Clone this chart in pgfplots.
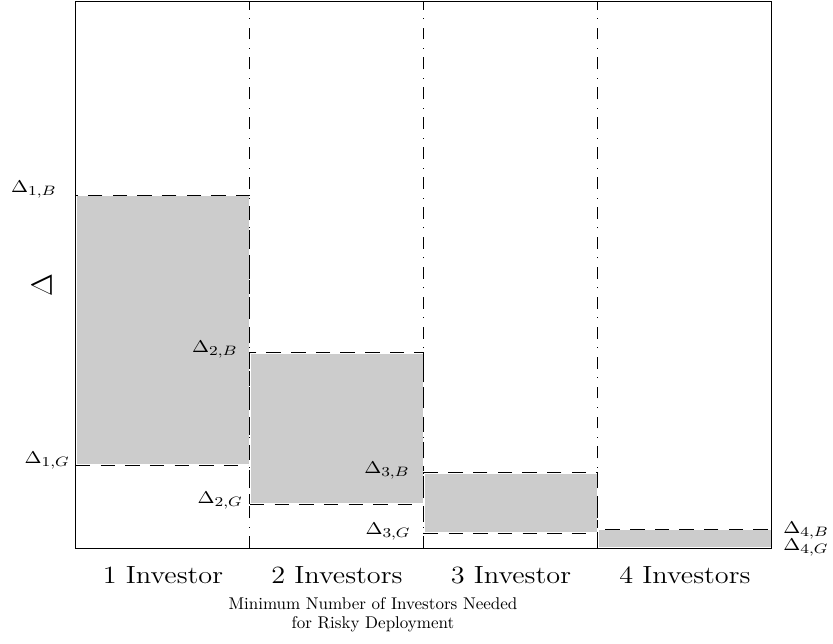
\documentclass[border=0pt]{standalone}
\usepackage{pgfplots}
\pgfplotsset{compat=1.18}
\usetikzlibrary{calc}
\DeclareMathSizes{10}{10}{8.5}{7}
\definecolor{bandgray}{RGB}{204,204,204}
\tikzset{
  bandedge/.style={black, line width=0.6pt, dash pattern=on 8.5pt off 6pt,
    preaction={draw=white, line width=1.6pt, solid}},
  colsep/.style={black, line width=0.6pt, dash pattern=on 7pt off 5pt on 0.6pt off 5pt},
  dlabel/.style={font=\fontsize{10}{12}\selectfont, inner sep=0pt, xscale=1.2, transform shape},
}
\begin{document}
\begin{tikzpicture}
\begin{axis}[
  name=ax,
  scale only axis,
  width=409.4pt, height=321.8pt,
  xmin=0, xmax=4, ymin=0, ymax=547,
  axis line style={line width=0.6pt},
  xtick={0.5,1.5,2.5,3.5},
  xticklabels={1 Investor, 2 Investors, 3 Investor, 4 Investors},
  ytick=\empty,
  major tick length=0pt,
  xticklabel style={font=\fontsize{14.6}{17}\selectfont, anchor=base, inner sep=0pt,
    yshift=-20.6pt, xscale=1.14, transform shape},
  xlabel={Minimum Number of Investors Needed\\for Risky Deployment},
  xlabel style={align=center, font=\fontsize{10}{11.2}\selectfont,
    at={(rel axis cs:0.4267,-0.0896)}, anchor=north, inner sep=0pt},
  ylabel={$\Delta$},
  ylabel style={font=\LARGE, at={(rel axis cs:-0.0489,0.481)}, anchor=center, inner sep=0pt},
  clip=false,
  axis on top,
]
% shaded intervals [Delta_{k,G}, Delta_{k,B}] for k = 1..4 investors
\addplot[draw=none, fill=bandgray] coordinates {(0,83) (1,83) (1,353) (0,353)} -- cycle;
\addplot[draw=none, fill=bandgray] coordinates {(1,44) (2,44) (2,195.3) (1,195.3)} -- cycle;
\addplot[draw=none, fill=bandgray] coordinates {(2,14.7) (3,14.7) (3,75.3) (2,75.3)} -- cycle;
\addplot[draw=none, fill=bandgray] coordinates {(3,0) (4,0) (4,19) (3,19)} -- cycle;
% dashed outlines of the intervals
\addplot[bandedge] coordinates {(0,83) (1,83) (1,353) (0,353)} -- cycle;
\addplot[bandedge] coordinates {(1,44) (2,44) (2,195.3) (1,195.3)} -- cycle;
\addplot[bandedge] coordinates {(2,14.7) (3,14.7) (3,75.3) (2,75.3)} -- cycle;
\addplot[bandedge] coordinates {(3,0) (4,0) (4,19) (3,19)} -- cycle;
% separators between the investor counts
\addplot[colsep] coordinates {(1,0) (1,547)};
\addplot[colsep] coordinates {(2,0) (2,547)};
\addplot[colsep] coordinates {(3,0) (3,547)};
% threshold labels
\node[dlabel, anchor=base east] at (axis cs:-0.109,356) {$\Delta_{1,B}$};
\node[dlabel, anchor=base east] at (axis cs:-0.034,85) {$\Delta_{1,G}$};
\node[dlabel, anchor=base east] at (axis cs:0.931,196) {$\Delta_{2,B}$};
\node[dlabel, anchor=base east] at (axis cs:0.960,45) {$\Delta_{2,G}$};
\node[dlabel, anchor=base east] at (axis cs:1.920,75) {$\Delta_{3,B}$};
\node[dlabel, anchor=base east] at (axis cs:1.925,14) {$\Delta_{3,G}$};
\node[dlabel, anchor=base west] at (axis cs:4.063,15) {$\Delta_{4,B}$};
\node[dlabel, anchor=base west] at (axis cs:4.063,-2) {$\Delta_{4,G}$};
\end{axis}
\pgfresetboundingbox
\path ($(ax.south west)+(-44.7pt,-55.9pt)$) rectangle ($(ax.north east)+(35.9pt,0.6pt)$);
\end{tikzpicture}
\end{document}
